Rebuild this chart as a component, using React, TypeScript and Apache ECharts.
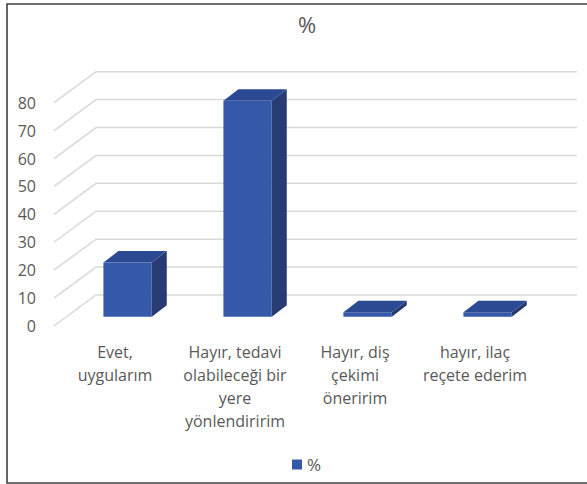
import React, { useEffect, useRef } from "react";
import * as echarts from "echarts";

const categories = [
  "Evet,\nuygularım",
  "Hayır, tedavi\nolabileceği bir\nyere\nyönlendiririm",
  "Hayır, diş\nçekimi\nöneririm",
  "hayır, ilaç\nreçete ederim",
];
const percentValues = [19.4, 77.4, 1.6, 1.6];
const yTicks = [0, 10, 20, 30, 40, 50, 60, 70, 80];
const seriesName = "%";
const chartTitle = "%";

const TEXT = "#595959";
const FONT = "'Open Sans', 'Noto Sans', sans-serif";
const DEPTH_X = 42;
const DEPTH_Y = -31;

export default function App() {
  const ref = useRef<HTMLDivElement>(null);
  useEffect(() => {
    if (!ref.current) return;
    const chart = echarts.init(ref.current, null, { renderer: "svg" });
    const option: any = {
      animation: false,
      backgroundColor: "#ffffff",
      title: {
        text: chartTitle,
        left: 302,
        top: 8,
        textAlign: "center",
        textStyle: { color: TEXT, fontSize: 22, fontWeight: "normal", fontFamily: FONT },
      },
      legend: {
        data: [seriesName],
        left: 292,
        top: 456,
        icon: "rect",
        itemWidth: 10,
        itemHeight: 10,
        itemGap: 4,
        textStyle: { color: TEXT, fontSize: 17, fontFamily: FONT },
        padding: 0,
      },
      grid: { left: 55, right: 52, top: 102.7, bottom: 158, containLabel: false },
      xAxis: {
        type: "category",
        data: categories,
        axisLine: { show: false },
        axisTick: { show: false },
        splitLine: { show: false },
        axisLabel: {
          color: TEXT,
          fontSize: 16,
          fontFamily: FONT,
          lineHeight: 23,
          margin: 14,
          interval: 0,
          align: "center",
        },
      },
      yAxis: {
        type: "value",
        min: 0,
        max: 80,
        interval: 10,
        axisLine: { show: false },
        axisTick: { show: false },
        splitLine: { show: false },
        axisLabel: { color: TEXT, fontSize: 16, fontFamily: FONT, margin: 19 },
      },
      graphic: [
        {
          type: "rect",
          shape: { x: 7, y: 4, width: 600, height: 479 },
          style: { fill: "none", stroke: "#404040", lineWidth: 1.6 },
          silent: true,
        },
      ],
      series: [
        {
          type: "custom",
          z: 1,
          silent: true,
          data: yTicks.map((v) => [0, v]),
          renderItem: (params: any, api: any) => {
            const cs = params.coordSys;
            const y = api.coord([0, api.value(1)])[1];
            const x0 = cs.x - 1;
            return {
              type: "polyline",
              shape: {
                points: [
                  [x0, y],
                  [x0 + DEPTH_X, y + DEPTH_Y],
                  [cs.x + cs.width + DEPTH_X, y + DEPTH_Y],
                ],
              },
              style: { fill: "none", stroke: "#d9d9d9", lineWidth: 1.5 },
            };
          },
        },
        {
          name: seriesName,
          type: "custom",
          z: 2,
          itemStyle: { color: "#3559a8" },
          data: percentValues.map((v, i) => [i, v]),
          renderItem: (params: any, api: any) => {
            const i = api.value(0);
            const v = api.value(1);
            const top = api.coord([i, v]);
            const bot = api.coord([i, 0]);
            const bw = api.size([1, 0])[0] * 0.403;
            const fx = DEPTH_X * 0.3;
            const fy = DEPTH_Y * 0.3;
            const dx = 15;
            const dy = -11.5;
            const x0 = top[0] - bw / 2 + fx;
            const x1 = x0 + bw;
            const yt = top[1] + fy;
            const yb = bot[1] + fy;
            return {
              type: "group",
              children: [
                {
                  type: "polygon",
                  shape: { points: [[x1, yt], [x1 + dx, yt + dy], [x1 + dx, yb + dy], [x1, yb]] },
                  style: { fill: "#283b72" },
                },
                {
                  type: "polygon",
                  shape: { points: [[x0, yt], [x1, yt], [x1 + dx, yt + dy], [x0 + dx, yt + dy]] },
                  style: { fill: "#2b4a93" },
                },
                {
                  type: "rect",
                  shape: { x: x0, y: yt, width: bw, height: yb - yt },
                  style: { fill: "#3559a8" },
                },
              ],
            };
          },
        },
      ],
    };
    chart.setOption(option);
    return () => chart.dispose();
  }, []);
  return (
    <div
      ref={ref}
      style={{ position: "fixed", left: 0, top: 0, width: 587, height: 484 }}
    />
  );
}
